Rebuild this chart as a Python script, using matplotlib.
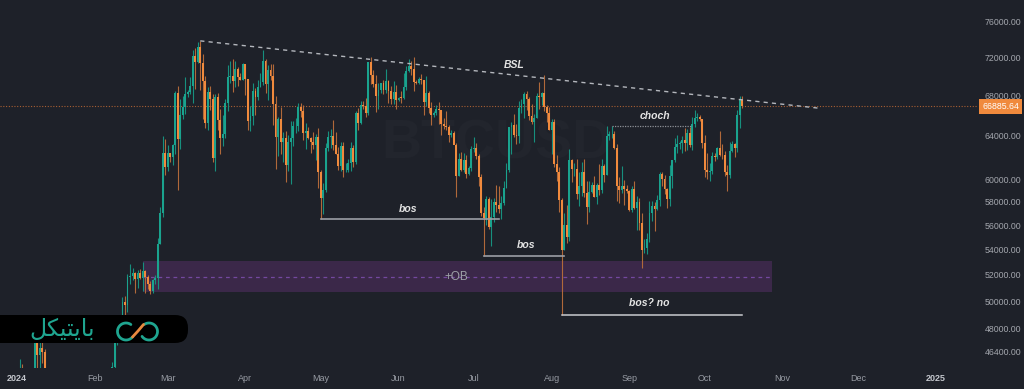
import numpy as np
import pandas as pd
import matplotlib
matplotlib.use("Agg")
import matplotlib.pyplot as plt
import matplotlib.dates as mdates
import matplotlib.transforms as mtransforms
from matplotlib.patches import FancyBboxPatch, Rectangle

# BTCUSD daily candles, 2024-01-01 .. 2024-10-16
first_open = 42283
highs = [
    44184, 45879, 45500, 44729, 44357, 44215, 44495, 47218, 47893, 47695, 48969, 46515, 43257, 43079, 43400, 43578,
    43198, 42930, 42196, 41875, 41885, 41700, 40129, 40555, 40300, 42225, 42200, 42842, 43305, 43882, 43745,
    43285, 43476, 43380, 43119, 43535, 43400, 44396, 45614, 48200, 48170, 48584, 50334, 50368, 52043, 52817,
    52573, 52200, 52400, 52485, 52985, 52372, 52000, 51548, 51700, 51958, 54938, 57588, 64000, 63676,
    63114, 62433, 63231, 68499, 69000, 67637, 67985, 69908, 68541, 69887, 72800, 73000, 73650, 73777, 72357,
    70043, 68904, 68956, 68124, 68100, 68240, 66650, 65999, 67624, 71150, 71561, 71769, 71552, 70916, 70321, 71366,
    71288, 69674, 66914, 69291, 68725, 69629, 70326, 72797, 71758, 71172, 71305, 71227, 67931, 65840, 66867,
    64365, 64499, 64125, 65450, 65419, 65695, 67232, 67199, 67075, 65297, 64837, 63923, 64370, 64228, 64734,
    60780, 59625, 63320, 64500, 64646, 65500, 64390, 62995, 63421, 63469, 61490, 61850, 63450, 63118, 66444,
    66753, 67459, 67400, 67700, 71515, 71979, 70666, 70096, 69250, 69220, 69562, 70687, 69591, 68935, 69500, 69044,
    67857, 68460, 70288, 71063, 71758, 71625, 71997, 69563, 69887, 70195, 69590, 69999, 68449, 67320, 66440,
    66983, 67298, 66558, 65727, 66482, 65066, 64525, 64520, 63369, 62350, 62487, 62389, 62225, 61224, 63058,
    63861, 63288, 62285, 60498, 57546, 58475, 58449, 58236, 58296, 59470, 59359, 58526, 59850, 61420, 64900,
    65388, 66128, 65133, 67386, 67598, 68366, 68480, 67819, 67102, 66151, 68200, 69399, 68318, 70079, 66987, 66868,
    65659, 65596, 62198, 61117, 58305, 57063, 57737, 62745, 61800, 61488, 61855, 60680, 61572, 61800, 59850,
    59847, 59700, 60284, 59617, 61400, 61820, 61400, 64955, 64513, 65000, 64481, 63212, 60234, 61166, 59944, 59462,
    59054, 59425, 59809, 58519, 58327, 57008, 54850, 55318, 58088, 58044, 57981, 58588, 60625, 60610, 60395,
    59210, 61320, 61786, 63850, 64133, 63559, 64000, 64745, 64688, 64817, 65839, 66498, 66260, 66076, 65618,
    64130, 62390, 61477, 62484, 62370, 62975, 64478, 63200, 62543, 61321, 63417, 63480, 63285, 66500, 67950, 67900,
]
lows = [
    42180, 44148, 40750, 42613, 42450, 43400, 43662, 43200, 44300, 44300, 45606, 41500, 42436, 41720, 41718, 42050,
    42200, 40683, 40280, 41423, 41500, 39431, 38555, 39485, 39510, 39760, 41394, 41620, 41804, 42683, 42276,
    41884, 42565, 42880, 42222, 42546, 42574, 42788, 44331, 45242, 46800, 47557, 47710, 48300, 49225, 51310,
    51600, 50625, 51000, 51715, 50760, 50625, 50926, 50521, 50600, 51279, 50901, 54450, 56690, 60364,
    60777, 61561, 61320, 62300, 59005, 62787, 65600, 66100, 67861, 68094, 67194, 68620, 71335, 68555, 65630,
    64780, 64533, 66566, 61555, 60775, 64529, 62260, 63000, 63820, 66385, 69280, 68359, 68903, 69009, 69540, 69562,
    68062, 64550, 64493, 65064, 66011, 67491, 68824, 69043, 68210, 67518, 69567, 65086, 60919, 62134, 62274,
    61600, 59768, 60775, 59600, 63090, 64237, 64500, 65864, 63589, 62794, 63750, 62400, 62781, 61765, 59191,
    56552, 56911, 58848, 62600, 62822, 62700, 62285, 60866, 60769, 60187, 60633, 60630, 60750, 61142, 61330,
    64602, 65119, 66600, 65855, 66060, 69162, 68833, 66312, 66600, 68200, 68128, 68250, 67277, 67124, 67128, 66670,
    67386, 67257, 67612, 68567, 70383, 70119, 68420, 69160, 69183, 69172, 66051, 66900, 66251, 65078, 65888,
    66000, 65130, 64060, 64666, 64559, 63379, 63918, 63209, 58402, 60240, 60712, 60606, 60063, 60383, 60712,
    62497, 61806, 59400, 56771, 53485, 56018, 55724, 54260, 56290, 57157, 57052, 56542, 57756, 59208, 60632,
    62300, 63854, 63238, 63300, 66222, 65777, 66573, 65506, 65111, 63426, 65750, 66676, 67067, 66428, 65323, 64530,
    62302, 61130, 59850, 57122, 49000, 53973, 54558, 54730, 59767, 60288, 58286, 57642, 58478, 58433, 56078,
    57110, 58785, 58408, 57787, 58610, 58783, 59724, 60342, 63574, 63773, 62800, 58034, 57860, 58753, 57701, 58744,
    57217, 57128, 57415, 55606, 55643, 52550, 53745, 53629, 54591, 56386, 55545, 57324, 57632, 59400, 58696,
    57493, 57610, 59174, 61555, 62350, 62758, 62357, 62538, 62700, 62947, 62670, 64819, 65422, 65432, 62856,
    60164, 59996, 59828, 60459, 61689, 61798, 62128, 61860, 60300, 58946, 60087, 62487, 62050, 62457, 64800, 66750,
]
closes = [
    44179, 44946, 42845, 44151, 44162, 43989, 43943, 46970, 46139, 46632, 46345, 42777, 42842, 41732, 42511, 43138,
    42776, 41262, 41618, 41665, 41545, 39507, 39845, 40077, 39933, 41816, 42120, 42031, 43300, 42946, 42580,
    43082, 43200, 43011, 42582, 42708, 43098, 44339, 45301, 47147, 47771, 48293, 49958, 49742, 51826, 51938,
    52160, 51663, 52122, 51780, 52284, 51839, 51304, 50731, 51571, 51733, 54476, 57037, 62432, 61130,
    62387, 61987, 63113, 68245, 63724, 66074, 66823, 68124, 68313, 68955, 72078, 71452, 73072, 71388, 69499,
    65300, 68393, 67609, 61937, 67840, 65501, 63796, 64209, 67211, 69880, 69988, 69469, 70780, 69850, 69582, 71280,
    69649, 65463, 65963, 68487, 67820, 68896, 69360, 71620, 69146, 70631, 70006, 67116, 63924, 65661, 63419,
    63793, 61277, 63470, 63818, 64940, 64941, 66819, 66414, 64289, 64498, 63770, 63461, 63118, 63866, 60672,
    58364, 59060, 62882, 63892, 64038, 63162, 62334, 61187, 63049, 60792, 60793, 61448, 62901, 61553, 66256,
    65231, 67051, 66940, 66278, 71446, 70148, 69166, 67969, 68549, 69290, 68507, 69436, 68398, 67652, 68352, 67540,
    67766, 67765, 68809, 70567, 71082, 70757, 69342, 69305, 69648, 69541, 67314, 68263, 66774, 66044, 66208,
    66639, 66491, 65156, 64982, 64828, 64096, 64252, 63180, 60277, 61806, 60864, 61706, 60427, 60986, 62772,
    62899, 62135, 60208, 57050, 56628, 58230, 55849, 56705, 58009, 57742, 57344, 57899, 59231, 60787, 64870,
    65097, 64118, 63974, 66709, 67163, 68154, 67585, 65927, 65372, 65777, 67912, 67813, 68255, 66819, 66201, 64619,
    65357, 61415, 60680, 58116, 53991, 56034, 55027, 61710, 60880, 60945, 58719, 59354, 60609, 58737, 57560,
    58874, 59491, 58427, 59438, 59013, 61156, 60375, 64037, 64157, 64220, 62834, 59415, 59034, 59359, 59123, 58973,
    57301, 59132, 57487, 57970, 56180, 53962, 54160, 54869, 57042, 57635, 57338, 58132, 60498, 59993, 59132,
    58213, 60309, 61759, 62947, 63201, 63348, 63578, 63339, 64262, 63152, 65173, 65769, 65858, 65602, 63327,
    60805, 60649, 60752, 62086, 62058, 62819, 62224, 62160, 60636, 60326, 62540, 63206, 62870, 66046, 67500, 66885.64,
]
last_price = 66885.64

price_ticks = [76000, 72000, 68000, 64000, 60000, 58000, 56000, 54000, 52000, 50000, 48000, 46400]
month_labels = ["2024", "Feb", "Mar", "Apr", "May", "Jun", "Jul", "Aug", "Sep", "Oct", "Nov", "Dec", "2025"]
month_starts = pd.date_range("2024-01-01", "2025-01-01", freq="MS")

# marked levels
bsl_line = (("2024-03-14", 73777), ("2024-11-16", 66700))
bos_levels = [("2024-05-01", "2024-07-11", 56552), ("2024-07-05", "2024-08-06", 53485)]
bos_no_level = ("2024-08-05", "2024-10-16", 49000)
choch_level = ("2024-08-25", "2024-09-26", 65000)
ob_zone = ("2024-02-20", "2024-10-28", 50690, 53060)

BG = "#1e2129"
UP = "#1aa38e"
DOWN = "#f08a3d"

plt.rcParams["font.family"] = ["Liberation Sans", "DejaVu Sans"]

n = min(len(highs), len(lows), len(closes))
highs = np.array(highs[:n], dtype=float)
lows = np.array(lows[:n], dtype=float)
closes = np.array(closes[:n], dtype=float)
opens = np.concatenate([[first_open], closes[:-1]])
dates = pd.date_range("2024-01-01", periods=n, freq="D")
x = mdates.date2num(dates)

def d(s):
    return mdates.date2num(pd.Timestamp(s))

fig = plt.figure(figsize=(10.24, 3.89), dpi=100, facecolor=BG)
ax = fig.add_axes([0, 21 / 389, 978 / 1024, 1 - 21 / 389])
ax.set_facecolor(BG)
ax.set_yscale("log")

# order block zone
ob = Rectangle((d(ob_zone[0]), ob_zone[2]), d(ob_zone[1]) - d(ob_zone[0]), ob_zone[3] - ob_zone[2],
               facecolor="#3b2849", edgecolor="none", zorder=1)
ax.add_patch(ob)
mid = np.sqrt(ob_zone[2] * ob_zone[3])
ax.plot([d(ob_zone[0]), d(ob_zone[1])], [mid, mid], color="#7448a0", lw=0.9, ls=(0, (3, 3)), zorder=1.5)
ax.text(d("2024-06-24"), mid, "+OB", color="#9da0a7", fontsize=8.5, ha="center", va="center", zorder=2)

# watermark
ax.text(d("2024-07-10"), 63200, "BTCUSD", color="#22252d", fontsize=40, ha="center", va="center",
        fontweight="bold", zorder=0.5)

# last price line
ax.axhline(last_price, color="#a85f33", lw=0.8, ls=(0, (1, 1.5)), zorder=1.6)

# candles
up = closes >= opens
body_lo = np.minimum(opens, closes)
body_h = np.maximum(np.abs(closes - opens), body_lo * 0.0008)
wick_cols = np.where(up, "#178f7e", "#b0693a")
ax.vlines(x, lows, highs, colors=wick_cols, lw=0.8, zorder=3)
ax.bar(x, body_h, bottom=body_lo, width=0.75, color=np.where(up, UP, DOWN), linewidth=0, zorder=4)

# annotations
ax.plot([d(bsl_line[0][0]), d(bsl_line[1][0])], [bsl_line[0][1], bsl_line[1][1]],
        color="#b4b7bd", lw=1, ls=(0, (3, 3)), zorder=5)
ax.text(d("2024-07-17"), 71160, "BSL", color="#e4e4e4", fontsize=7.5, style="italic", fontweight="bold",
        ha="center", va="center", zorder=6)
for s, e, p in bos_levels:
    ax.plot([d(s), d(e)], [p, p], color="#9c9fa5", lw=1.2, zorder=5)
ax.text(d("2024-06-05"), 57400, "bos", color="#e4e4e4", fontsize=7.5, style="italic", fontweight="bold",
        ha="center", va="center", zorder=6)
ax.text(d("2024-07-22"), 54380, "bos", color="#e4e4e4", fontsize=7.5, style="italic", fontweight="bold",
        ha="center", va="center", zorder=6)
ax.plot([d(bos_no_level[0]), d(bos_no_level[1])], [bos_no_level[2]] * 2, color="#c9cbcf", lw=1.1, zorder=5)
ax.text(d("2024-09-09"), 49880, "bos? no", color="#e4e4e4", fontsize=7.5, style="italic", fontweight="bold",
        ha="center", va="center", zorder=6)
ax.plot([d(choch_level[0]), d(choch_level[1])], [choch_level[2]] * 2, color="#8d9096", lw=0.9,
        ls=(0, (1, 1)), zorder=5)
ax.text(d("2024-09-11"), 65930, "choch", color="#e4e4e4", fontsize=7.5, style="italic", fontweight="bold",
        ha="center", va="center", zorder=6)

# axes
ax.set_xlim(d("2024-01-01") - 6.8, d("2024-01-01") + 382.9)
ax.set_ylim(45240, 78424)
for sp in ax.spines.values():
    sp.set_visible(False)
ax.yaxis.tick_right()
ax.yaxis.set_major_locator(matplotlib.ticker.FixedLocator(price_ticks))
ax.yaxis.set_minor_locator(matplotlib.ticker.NullLocator())
ax.yaxis.set_major_formatter(matplotlib.ticker.FuncFormatter(lambda v, p: f"{v:.2f}"))
ax.tick_params(axis="y", length=0, pad=5, labelsize=6.3, labelcolor="#a3a6ad")
ax.set_xticks(mdates.date2num(month_starts))
ax.set_xticklabels(month_labels)
ax.tick_params(axis="x", length=0, pad=4, labelsize=6.5, labelcolor="#979ba3")
for lab in ax.get_xticklabels():
    if lab.get_text() in ("2024", "2025"):
        lab.set_fontweight("bold")
        lab.set_color("#c4c7cd")

trans = mtransforms.blended_transform_factory(ax.transAxes, ax.transData)
ax.text(1.0045, last_price, f"{last_price:.2f}", transform=trans, fontsize=6.3, color="#ffffff",
        ha="left", va="center", clip_on=False, zorder=10,
        bbox=dict(boxstyle="square,pad=0.35", fc=DOWN, ec="none"))

# logo overlay (pixel coordinates)
ov = fig.add_axes([0, 0, 1, 1], zorder=20)
ov.set_xlim(0, 1024)
ov.set_ylim(389, 0)
ov.axis("off")
ov.patch.set_alpha(0)
ov.add_patch(FancyBboxPatch((-20, 315), 208, 28, boxstyle="round,pad=0,rounding_size=13",
                            fc="#000000", ec="none"))
logo_text = "\ufede\ufb91\ufef4\ufe98\ufef3\ufe8e\ufe91"
ov.text(62, 329, logo_text, color="#1fa590", fontsize=17, ha="center", va="center",
        family=["DejaVu Sans"])
t = np.radians(np.linspace(55, 320, 60))
ov.plot(126 + 8.5 * np.cos(t), 331.5 - 8.5 * np.sin(t), color="#1fa590", lw=2, solid_capstyle="round")
t = np.radians(np.linspace(125, -145, 60))
ov.plot(149 + 8.5 * np.cos(t), 331.5 - 8.5 * np.sin(t), color="#1fa590", lw=2, solid_capstyle="round")
ov.plot([132.5, 138, 143.5], [337, 331, 324.5], color="#e8893f", lw=2, solid_capstyle="round")

fig.savefig("out.png", dpi=100, facecolor=BG)
